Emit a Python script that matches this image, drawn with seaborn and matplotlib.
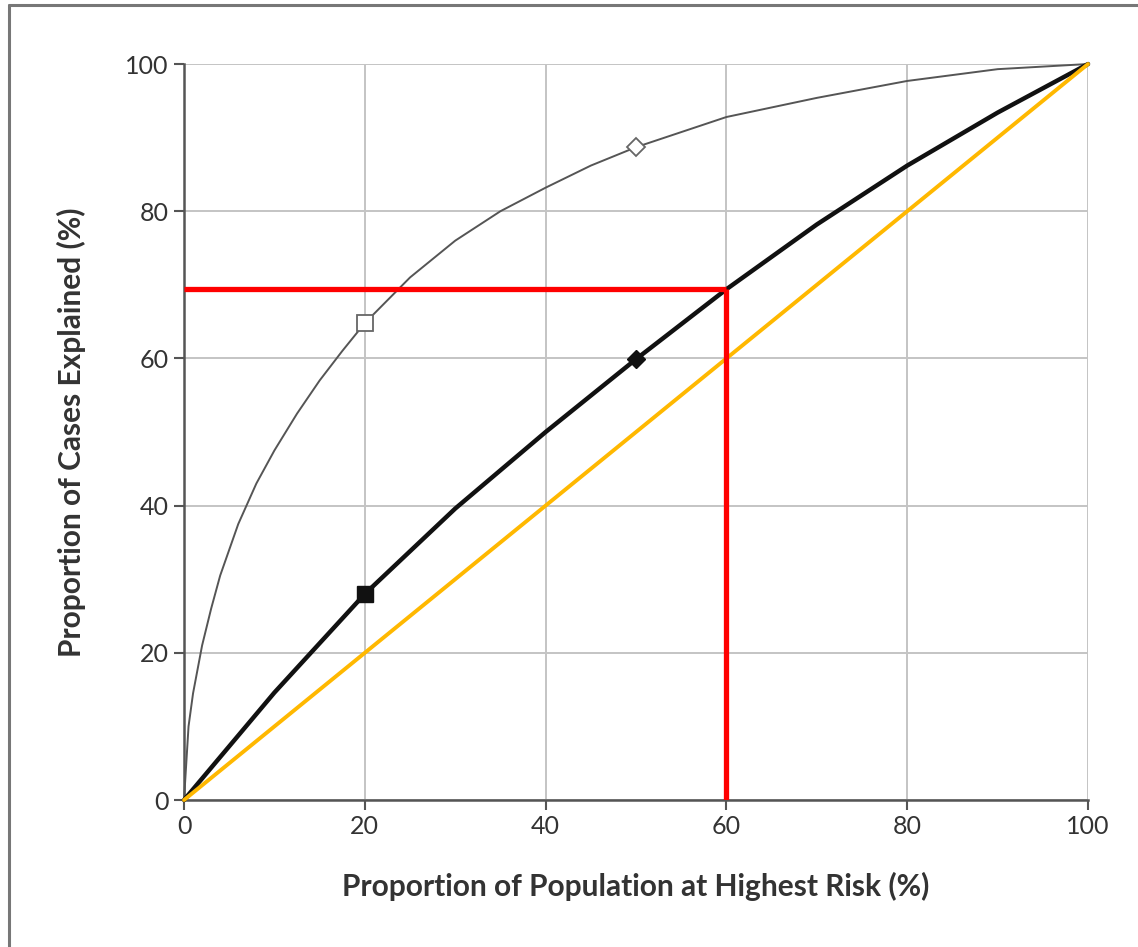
import numpy as np
import pandas as pd
import seaborn as sns
import matplotlib.pyplot as plt
from matplotlib.lines import Line2D

# values
pop_pct = [0, 10, 20, 30, 40, 50, 60, 70, 80, 90, 100]
cases_model = [0, 14.6, 28, 39.6, 50.0, 59.9, 69.4, 78.2, 86.2, 93.4, 100]

pop_pct_upper = [0, 0.5, 1, 2, 3, 4, 6, 8, 10, 12.5, 15, 17.5, 20, 25, 30,
                 35, 40, 45, 50, 60, 70, 80, 90, 100]
cases_upper = [0, 10, 14.5, 21, 26, 30.5, 37.5, 43, 47.5, 52.5, 57, 61, 64.8,
               71, 76, 80, 83.2, 86.2, 88.7, 92.8, 95.4, 97.7, 99.3, 100]

diag = [0, 100]

# marked points
mark_x = [20, 50]
mark_upper = [64.8, 88.7]
mark_model = [28, 59.9]

# red cut-off guide
cut_x = 60
cut_y = 69.4

ticks = [0, 20, 40, 60, 80, 100]

sns.set_theme(style="whitegrid")
plt.rcParams['font.family'] = ['Lato', 'DejaVu Sans']

fig = plt.figure(figsize=(11.38, 9.47), dpi=100)
ax = fig.add_axes([0.1617, 0.1552, 0.7944, 0.7772])

upper_df = pd.DataFrame({"x": pop_pct_upper, "y": cases_upper})
model_df = pd.DataFrame({"x": pop_pct, "y": cases_model})

sns.lineplot(data=upper_df, x="x", y="y", ax=ax, color="#555555", lw=1.4,
             sort=False, clip_on=False, zorder=3)
sns.lineplot(data=model_df, x="x", y="y", ax=ax, color="#111111", lw=3.2,
             sort=False, clip_on=False, zorder=4)
ax.plot(diag, diag, color="#FFB800", lw=2.8, clip_on=False, zorder=5)

# red guide lines
ax.plot([0, cut_x], [cut_y, cut_y], color="#FF0000", lw=3.8, zorder=6,
        solid_capstyle="butt")
ax.plot([cut_x, cut_x], [0, cut_y], color="#FF0000", lw=3.8, zorder=6,
        solid_capstyle="butt")

# markers
ax.plot(mark_x[0], mark_upper[0], marker="s", ms=11, mfc="white",
        mec="#666666", mew=1.3, zorder=7)
ax.plot(mark_x[1], mark_upper[1], marker="D", ms=9, mfc="white",
        mec="#666666", mew=1.3, zorder=7)
ax.plot(mark_x[0], mark_model[0], marker="s", ms=12, color="#111111", zorder=7)
ax.plot(mark_x[1], mark_model[1], marker="D", ms=9, color="#111111", zorder=7)

ax.set_xlim(0, 100)
ax.set_ylim(0, 100)
ax.set_xticks(ticks)
ax.set_yticks(ticks)
ax.grid(True, color="#c4c4c4", lw=1.4)
ax.set_facecolor("white")

for side in ["top", "right"]:
    ax.spines[side].set_visible(False)
for side in ["left", "bottom"]:
    ax.spines[side].set_color("#555555")
    ax.spines[side].set_linewidth(1.8)

ax.tick_params(axis="both", which="both", direction="out", length=7,
               width=1.5, color="#555555", labelsize=18, labelcolor="#333333",
               pad=4, bottom=True, left=True)

ax.set_xlabel("Proportion of Population at Highest Risk (%)", fontsize=21.5,
              fontweight="bold", color="#333333", labelpad=24)
ax.set_ylabel("Proportion of Cases Explained (%)", fontsize=21.5,
              fontweight="bold", color="#333333", labelpad=28)

# frame around the picture (left and top edges only visible)
fig.add_artist(Line2D([0.008, 0.008], [0, 0.995], color="#777777", lw=2.2))
fig.add_artist(Line2D([0.008, 1], [0.995, 0.995], color="#777777", lw=2.2))

fig.savefig("out.png", dpi=100)
